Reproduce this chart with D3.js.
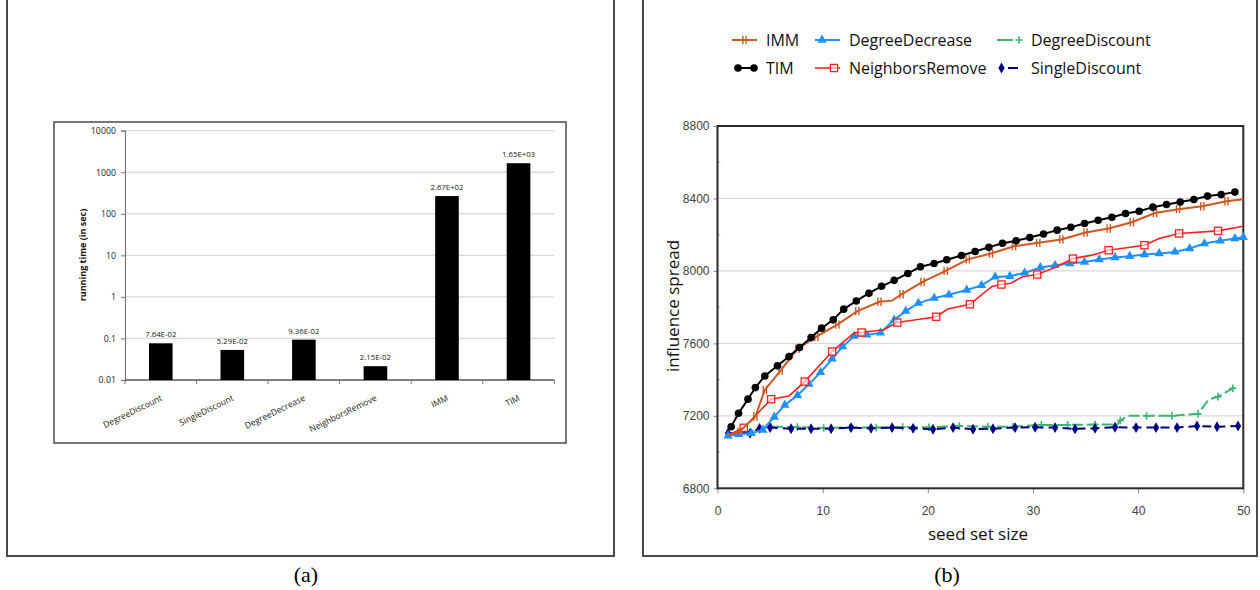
<!DOCTYPE html>
<html><head><meta charset="utf-8">
<script src="https://cdn.jsdelivr.net/npm/d3@7"></script>
<style>
html,body{margin:0;padding:0;background:#fff;}
svg{display:block;}
</style></head>
<body>
<svg id="c" width="1260" height="590"></svg>
<script>
// ---------- Data: panel (a) ----------
const algorithms = ["DegreeDiscount","SingleDiscount","DegreeDecrease","NeighborsRemove","IMM","TIM"];
const runTimes = [0.0764, 0.0529, 0.0936, 0.0215, 267, 1650];
const runLabels = ["7.64E-02","5.29E-02","9.36E-02","2.15E-02","2.67E+02","1.65E+03"];
const logTicks = [0.01, 0.1, 1, 10, 100, 1000, 10000];
const logTickLabels = ["0.01","0.1","1","10","100","1000","10000"];

// ---------- Data: panel (b) ----------
const timX = [1.3,2.0,2.9,3.6,4.5,5.7,6.8,7.8,8.9,9.9,11.0,12.0,13.2,14.4,15.6,16.8,18.1,19.3,20.6,21.8,23.2,24.5,25.8,27.1,28.4,29.7,31.0,32.3,33.6,34.9,36.2,37.5,38.8,40.1,41.4,42.7,44.0,45.3,46.6,47.9,49.2];
const timY = [7140,7214,7292,7356,7420,7476,7527,7577,7632,7684,7730,7789,7834,7877,7915,7948,7986,8023,8041,8062,8085,8107,8131,8153,8166,8184,8204,8225,8241,8262,8280,8296,8317,8329,8352,8367,8380,8394,8413,8422,8435];

const immX = [1.0,2.1,3.6,4.5,6.0,7.6,9.4,11.4,13.3,15.4,16.6,17.5,19.5,21.7,23.8,26.0,28.2,30.5,32.7,35.0,37.2,39.4,41.6,43.8,46.1,48.4,50.0];
const immY = [7093,7113,7196,7343,7450,7570,7637,7704,7778,7830,7836,7871,7939,8000,8064,8096,8136,8155,8174,8212,8234,8269,8320,8341,8357,8385,8396];
const immMark = [0,1,1,1,1,1,1,1,1,1,0,1,1,1,1,1,1,1,1,1,1,1,1,1,1,1,0];

const ddecX = [1.0,2.0,3.2,4.3,5.4,6.4,7.6,8.7,9.8,10.9,11.9,13.0,14.2,15.5,16.8,17.9,19.1,20.6,22.0,23.7,25.1,26.4,27.8,29.2,30.7,32.1,33.5,34.9,36.3,37.8,39.2,40.6,42.0,43.5,44.9,46.3,47.8,49.2,50.0];
const ddecY = [7090,7098,7104,7122,7194,7260,7313,7375,7440,7515,7582,7640,7647,7659,7730,7778,7822,7850,7868,7895,7920,7967,7971,7989,8019,8031,8041,8049,8063,8074,8081,8091,8096,8105,8124,8151,8166,8179,8185];

const nrX = [1.0,2.5,5.1,6.8,8.3,10.9,13.0,13.7,15.8,17.1,20.8,21.9,24.0,26.1,27.0,27.9,29.0,30.4,32.2,33.8,35.6,37.2,40.6,42.0,43.9,47.6,50.0];
const nrY = [7093,7134,7292,7310,7389,7555,7658,7660,7675,7715,7747,7790,7816,7914,7925,7932,7968,7980,8022,8068,8087,8114,8142,8179,8207,8221,8247];
const nrMark = [0,1,1,0,1,1,0,1,0,1,1,0,1,0,1,0,0,1,0,1,0,1,1,0,1,1,0];

const ddisX = [1.0,3.1,4.0,5.1,7.6,10.1,12.6,15.1,17.6,20.1,23.0,25.7,28.1,30.8,33.3,35.9,38.0,38.3,39.0,40.8,43.2,45.7,46.7,47.6,49.0,49.5];
const ddisY = [7093,7112,7131,7140,7138,7133,7136,7135,7138,7137,7144,7140,7140,7150,7150,7152,7152,7174,7200,7200,7200,7211,7290,7306,7352,7352];
const ddisMark = [0,0,0,1,1,1,1,1,1,1,1,1,1,1,1,1,0,1,0,1,1,1,0,1,1,0];

const sdX = [1.0,3.1,4.0,5.0,7.0,8.9,10.8,12.7,14.6,16.6,18.6,20.5,22.4,24.3,26.2,28.3,30.2,32.1,34.0,35.9,37.8,39.8,41.7,43.7,45.6,47.5,49.5];
const sdY = [7104,7104,7131,7135,7129,7129,7129,7135,7131,7135,7131,7126,7135,7126,7129,7135,7137,7135,7128,7131,7137,7135,7135,7135,7144,7140,7144];

const xTicksB = [0,10,20,30,40,50];
const yTicksB = [6800,7200,7600,8000,8400,8800];
const yMinorB = [7000,7400,7800,8200,8600];

const svg = d3.select("#c");

// ---------- Panel frames ----------
function frame(x0, x1, yb){
  svg.append("path").attr("d", `M${x0},0V${yb}H${x1}V0`)
    .attr("fill","none").attr("stroke","#4a4a4a").attr("stroke-width",2);
}
frame(7, 614, 556);
frame(643, 1257, 556);
svg.append("text").attr("x",306).attr("y",582).attr("text-anchor","middle")
  .attr("font-family","Liberation Serif, serif").attr("font-size",22).text("(a)");
svg.append("text").attr("x",947).attr("y",582).attr("text-anchor","middle")
  .attr("font-family","Liberation Serif, serif").attr("font-size",22).text("(b)");

// ---------- Panel (a) ----------
const ga = svg.append("g");
ga.append("rect").attr("x",54).attr("y",122).attr("width",512).attr("height",321)
  .attr("fill","#fff").attr("stroke","#555").attr("stroke-width",1.6);

const xA = d3.scaleBand().domain(algorithms).range([125,554.3]).paddingInner(0.67).paddingOuter(0.335);
const yA = d3.scaleLog().domain([0.01,10000]).range([380,130.7]);

ga.append("g").selectAll("line").data(logTicks.slice(1)).join("line")
  .attr("x1",125).attr("x2",554.3).attr("y1",d=>yA(d)).attr("y2",d=>yA(d))
  .attr("stroke","#d9d9d9").attr("stroke-width",1.3);

const yAxisA = ga.append("g").attr("transform","translate(125,0)")
  .call(d3.axisLeft(yA).tickValues(logTicks).tickFormat((d,i)=>logTickLabels[i]).tickSize(4).tickPadding(5));
yAxisA.select(".domain").attr("stroke","#777").attr("stroke-width",1.2);
yAxisA.selectAll(".tick line").attr("stroke","#777");
yAxisA.selectAll("text").attr("font-family","Open Sans, sans-serif").attr("font-size",8.8).attr("fill","#222");

const xAxisA = ga.append("g").attr("transform","translate(0,380)");
xAxisA.append("line").attr("x1",125).attr("x2",554.3).attr("y1",0).attr("y2",0).attr("stroke","#555").attr("stroke-width",1.3);
const bounds = algorithms.map(a=>xA(a)-xA.step()*xA.paddingInner()/2).concat([554.3]);
xAxisA.selectAll("line.tk").data(bounds).join("line").attr("class","tk")
  .attr("x1",d=>d).attr("x2",d=>d).attr("y1",0).attr("y2",4).attr("stroke","#777");

ga.append("g").selectAll("rect").data(algorithms).join("rect")
  .attr("x",d=>xA(d)).attr("width",xA.bandwidth())
  .attr("y",(d,i)=>yA(runTimes[i])).attr("height",(d,i)=>380-yA(runTimes[i]))
  .attr("fill","#000");

ga.append("g").selectAll("text").data(algorithms).join("text")
  .attr("x",d=>xA(d)+xA.bandwidth()/2).attr("y",(d,i)=>yA(runTimes[i])-6)
  .attr("text-anchor","middle").attr("font-family","Open Sans, sans-serif").attr("font-size",7.8).attr("fill","#222")
  .text((d,i)=>runLabels[i]);

ga.append("g").selectAll("text").data(algorithms).join("text")
  .attr("transform",d=>`translate(${xA(d)+xA.bandwidth()/2+2},400) rotate(-26)`)
  .attr("text-anchor","end").attr("font-family","Open Sans, sans-serif").attr("font-size",8.6).attr("fill","#222")
  .text(d=>d);

ga.append("text").attr("transform","translate(86,255) rotate(-90)").attr("text-anchor","middle")
  .attr("font-family","Open Sans, sans-serif").attr("font-weight","bold").attr("font-size",9).attr("fill","#111")
  .text("running time (in sec)");

// ---------- Panel (b) ----------
const gb = svg.append("g");
const xB = d3.scaleLinear().domain([0,50]).range([717.5,1243.3]);
const yB = d3.scaleLinear().domain([6800,8800]).range([488.3,126]);

gb.append("g").selectAll("line").data(yTicksB.slice(1,-1)).join("line")
  .attr("x1",xB(0)).attr("x2",xB(50)).attr("y1",d=>yB(d)).attr("y2",d=>yB(d))
  .attr("stroke","#d9d9d9").attr("stroke-width",1.2);
gb.append("g").selectAll("line").data(yMinorB).join("line")
  .attr("x1",xB(0)).attr("x2",xB(0)+3).attr("y1",d=>yB(d)).attr("y2",d=>yB(d))
  .attr("stroke","#bbb").attr("stroke-width",1);

const yAxisB = gb.append("g").attr("transform",`translate(${xB(0)},0)`)
  .call(d3.axisLeft(yB).tickValues(yTicksB).tickFormat(d3.format("d")).tickSize(4).tickPadding(4));
yAxisB.select(".domain").remove();
yAxisB.selectAll(".tick line").attr("stroke","#888");
yAxisB.selectAll("text").attr("font-family","Liberation Sans, Arial, sans-serif").attr("font-size",12).attr("fill","#404040");

const xAxisB = gb.append("g").attr("transform",`translate(0,${yB(6800)})`)
  .call(d3.axisBottom(xB).tickValues(xTicksB).tickFormat(d3.format("d")).tickSize(5).tickPadding(13));
xAxisB.select(".domain").remove();
xAxisB.selectAll(".tick line").attr("stroke","#888");
xAxisB.selectAll("text").attr("font-family","Liberation Sans, Arial, sans-serif").attr("font-size",12).attr("fill","#404040");

gb.append("rect").attr("x",xB(0)).attr("y",yB(8800)).attr("width",xB(50)-xB(0)).attr("height",yB(6800)-yB(8800))
  .attr("fill","none").attr("stroke","#2a2a2a").attr("stroke-width",2);

gb.append("text").attr("x",978).attr("y",540).attr("text-anchor","middle")
  .attr("font-family","Open Sans, sans-serif").attr("font-size",17).attr("fill","#111").text("seed set size");
gb.append("text").attr("transform","translate(679,306) rotate(-90)").attr("text-anchor","middle")
  .attr("font-family","Open Sans, sans-serif").attr("font-size",17).attr("fill","#111").text("influence spread");

const line = d3.line().x(d=>xB(d[0])).y(d=>yB(d[1]));
function zip(xs, ys){ return xs.map((x,i)=>[x, ys[i]]); }

const markerFns = {
  circle: (g,c)=>g.append("circle").attr("r",3.8).attr("fill",c),
  tri: (g,c)=>g.append("path").attr("d",d3.symbol(d3.symbolTriangle,38)()).attr("fill",c),
  square: (g,c)=>g.append("rect").attr("x",-3.6).attr("y",-3.6).attr("width",7.2).attr("height",7.2).attr("fill","#fff").attr("fill-opacity",0.6).attr("stroke",c).attr("stroke-width",1.3),
  diamond: (g,c)=>g.append("path").attr("d",d3.symbol(d3.symbolDiamond,34)()).attr("fill",c),
  plus: (g,c)=>g.append("path").attr("d","M-3.5,0H3.5M0,-3.8V3.8").attr("stroke",c).attr("stroke-width",1.6).attr("fill","none"),
  dbar: (g,c)=>g.append("path").attr("d","M-1.6,-4.2V4.2M1.6,-4.2V4.2").attr("stroke",c).attr("stroke-width",1.4).attr("fill","none")
};

const series = [
  {name:"DegreeDiscount", xs:ddisX, ys:ddisY, mark:ddisMark, color:"#3CB371", dash:"11,4", w:2, m:"plus"},
  {name:"SingleDiscount", xs:sdX, ys:sdY, mark:null, color:"#000080", dash:"9,5", w:2, m:"diamond"},
  {name:"DegreeDecrease", xs:ddecX, ys:ddecY, mark:null, color:"#1E90FF", dash:null, w:2, m:"tri"},
  {name:"NeighborsRemove", xs:nrX, ys:nrY, mark:nrMark, color:"#FF1F1F", dash:null, w:1.6, m:"square"},
  {name:"IMM", xs:immX, ys:immY, mark:immMark, color:"#CD571E", dash:null, w:2, m:"dbar"},
  {name:"TIM", xs:timX, ys:timY, mark:null, color:"#000000", dash:null, w:2, m:"circle"}
];

const plotG = gb.append("g");
series.forEach(s=>{
  const pts = zip(s.xs, s.ys);
  plotG.append("path").datum(pts).attr("d",line).attr("fill","none")
    .attr("stroke",s.color).attr("stroke-width",s.w).attr("stroke-dasharray",s.dash);
  const mg = plotG.append("g");
  pts.forEach((p,i)=>{
    if (s.mark && !s.mark[i]) return;
    const g = mg.append("g").attr("transform",`translate(${xB(p[0])},${yB(p[1])})`);
    markerFns[s.m](g, s.color);
  });
});

// ---------- Legend ----------
const legendItems = [
  {name:"IMM", x:732, y:40, lx:[0,25], mk:[12.5]},
  {name:"DegreeDecrease", x:815, y:40, lx:[0,25], mk:[7]},
  {name:"DegreeDiscount", x:997, y:40, lx:[0,16], mk:[22]},
  {name:"TIM", x:732, y:68, lx:[5,22], mk:[6,22]},
  {name:"NeighborsRemove", x:815, y:68, lx:[0,25], mk:[19]},
  {name:"SingleDiscount", x:997, y:68, lx:[11,21], mk:[4.5]}
];
const lg = svg.append("g");
legendItems.forEach(it=>{
  const s = series.find(d=>d.name===it.name);
  lg.append("line").attr("x1",it.x+it.lx[0]).attr("x2",it.x+it.lx[1]).attr("y1",it.y).attr("y2",it.y)
    .attr("stroke",s.color).attr("stroke-width",s.w);
  it.mk.forEach(o=>{
    const g = lg.append("g").attr("transform",`translate(${it.x+o},${it.y})`);
    markerFns[s.m](g, s.color);
  });
  lg.append("text").attr("x",it.x+34).attr("y",it.y).attr("dy","0.36em")
    .attr("font-family","Open Sans, sans-serif").attr("font-size",16).attr("fill","#111").text(it.name);
});
</script>
</body></html>
